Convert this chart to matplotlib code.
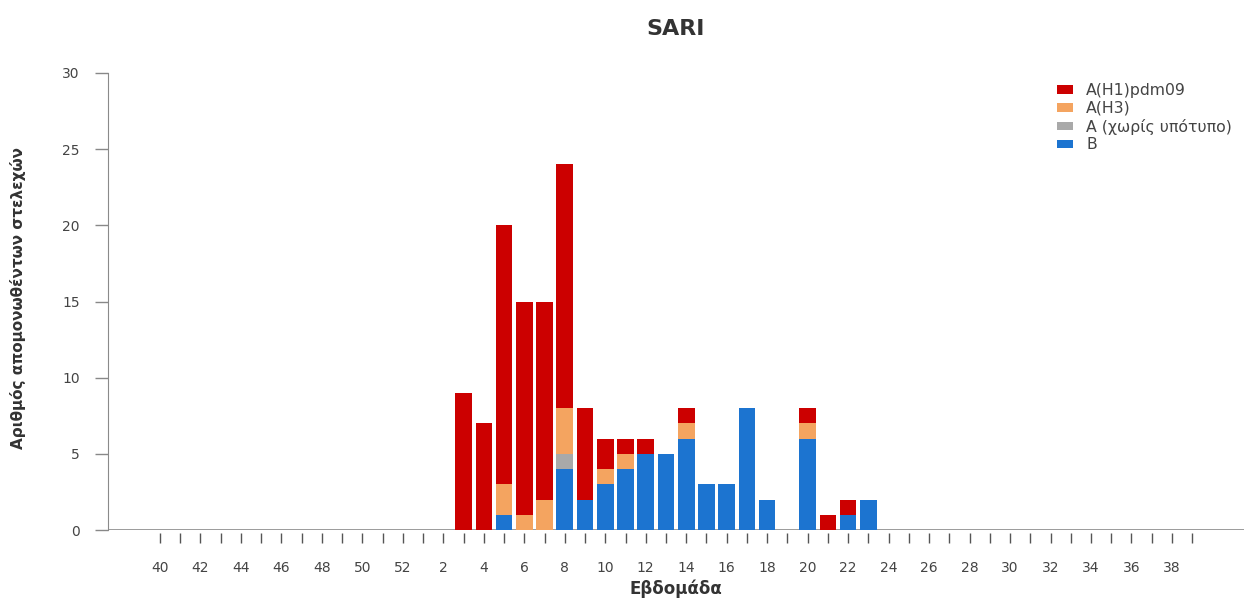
import matplotlib
matplotlib.use("Agg")
import matplotlib.pyplot as plt
from matplotlib.patches import Patch
import numpy as np

plt.rcParams['font.family'] = ['DejaVu Sans']

weeks = list(range(40, 53)) + list(range(1, 40))
#          40 ... 52 (13 weeks)      then weeks 1..39
b       = [0]*13 + [0,0,0,0,1,0,0,4,2,3,4,5,5,6,3,3,8,2,0,6,0,1,2] + [0]*16
a_unsub = [0]*13 + [0,0,0,0,0,0,0,1,0,0,0,0,0,0,0,0,0,0,0,0,0,0,0] + [0]*16
h3      = [0]*13 + [0,0,0,0,2,1,2,3,0,1,1,0,0,1,0,0,0,0,0,1,0,0,0] + [0]*16
h1      = [0]*13 + [0,0,9,7,17,14,13,16,6,2,1,1,0,1,0,0,0,0,0,1,1,1,0] + [0]*16

series_names = ["A(H1)pdm09", "A(H3)", "A (χωρίς υπότυπο)", "B"]
colors = {"A(H1)pdm09": "#CC0000", "A(H3)": "#F4A460",
          "A (χωρίς υπότυπο)": "#A9A9A9", "B": "#1C74D0"}

fig = plt.figure(figsize=(12.44, 5.99), dpi=100)
ax = fig.add_axes([108/1244, 1-530/599, 1-108/1244, (530-73)/599])

x = np.arange(len(weeks))
bw = 0.82
bottom = np.zeros(len(weeks))
for name, vals in [("B", b), ("A (χωρίς υπότυπο)", a_unsub), ("A(H3)", h3), ("A(H1)pdm09", h1)]:
    v = np.array(vals, dtype=float)
    ax.bar(x, v, width=bw, bottom=bottom, color=colors[name], linewidth=0)
    bottom += v

ax.set_xlim(-2.57, 53.56)
ax.set_ylim(0, 30)
ax.set_yticks([0, 5, 10, 15, 20, 25, 30])

ax.set_xticks(x)
ax.set_xticklabels([str(w) if i % 2 == 0 else "" for i, w in enumerate(weeks)])

for s in ['top', 'right']:
    ax.spines[s].set_visible(False)
ax.spines['left'].set_color('#8a8a8a')
ax.spines['bottom'].set_position(('outward', 2))
ax.spines['bottom'].set_color('none')
ax.axhline(0, color='#8a8a8a', lw=1.2, zorder=0.5)

ax.tick_params(axis='x', length=7.2, width=1, color='#555555', pad=13,
               labelsize=10, labelcolor='#444444')
ax.tick_params(axis='y', length=9.4, width=1, color='#888888', pad=11,
               labelsize=10, labelcolor='#444444')

fig.text(676/1244, 1-29/599, "SARI", ha='center', va='center',
         fontsize=16, fontweight='bold', color='#333333')
fig.text(676/1244, 1-589/599, "Εβδομάδα", ha='center', va='center',
         fontsize=12, fontweight='bold', color='#333333')
fig.text(18/1244, 1-298/599, "Αριθμός απομονωθέντων στελεχών", ha='center', va='center',
         rotation=90, fontsize=11, fontweight='bold', color='#333333')

handles = [Patch(facecolor=colors[n], edgecolor='none') for n in series_names]
leg = ax.legend(handles, series_names, loc='upper left',
                bbox_to_anchor=(1057/1244, 1-83/599), bbox_transform=fig.transFigure,
                frameon=False, fontsize=11.3, handlelength=1.0, handleheight=0.46,
                handletextpad=0.85, labelspacing=0.18, borderaxespad=0, borderpad=0)
for t in leg.get_texts():
    t.set_color('#444444')

fig.savefig("out.png", dpi=100)
